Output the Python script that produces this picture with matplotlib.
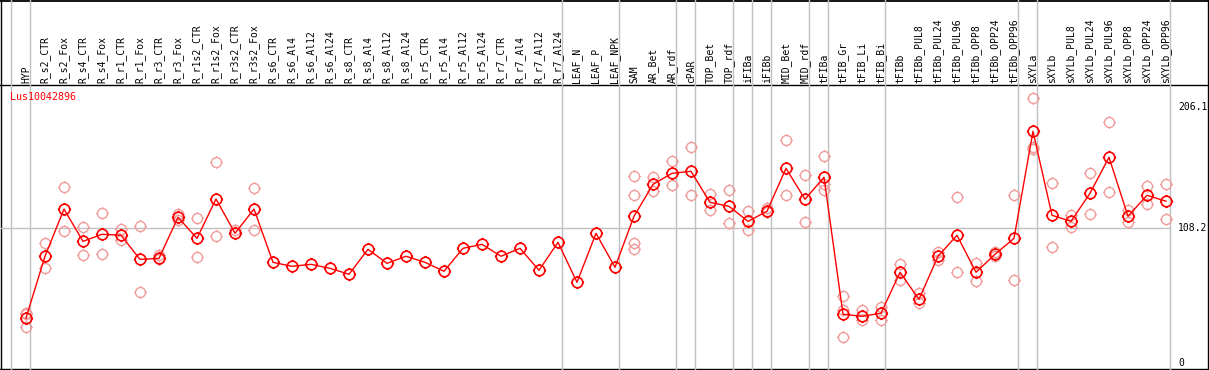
import numpy as np
import matplotlib.pyplot as plt
from matplotlib.path import Path

# sample names, left to right
labels = ["HYP", "R_s2_CTR", "R_s2_Fox", "R_s4_CTR", "R_s4_Fox", "R_r1_CTR", "R_r1_Fox",
          "R_r3_CTR", "R_r3_Fox", "R_r1s2_CTR", "R_r1s2_Fox", "R_r3s2_CTR", "R_r3s2_Fox",
          "R_s6_CTR", "R_s6_Al4", "R_s6_Al12", "R_s6_Al24", "R_s8_CTR", "R_s8_Al4",
          "R_s8_Al12", "R_s8_Al24", "R_r5_CTR", "R_r5_Al4", "R_r5_Al12", "R_r5_Al24",
          "R_r7_CTR", "R_r7_Al4", "R_r7_Al12", "R_r7_Al24", "LEAF_N", "LEAF_P", "LEAF_NPK",
          "SAM", "AR_Bet", "AR_rdf", "cPAR", "TOP_Bet", "TOP_rdf", "iFIBa", "iFIBb",
          "MID_Bet", "MID_rdf", "tFIBa", "tFIB_Gr", "tFIB_Li", "tFIB_Bi", "tFIBb",
          "tFIBb_PUL8", "tFIBb_PUL24", "tFIBb_PUL96", "tFIBb_OPP8", "tFIBb_OPP24",
          "tFIBb_OPP96", "sXYLa", "sXYLb", "sXYLb_PUL8", "sXYLb_PUL24", "sXYLb_PUL96",
          "sXYLb_OPP8", "sXYLb_OPP24", "sXYLb_OPP96"]

# mean expression per sample
means = [36.0, 85.7, 123.7, 97.7, 103.4, 102.6, 83.2, 84.0, 117.1, 100.1, 131.8, 104.2,
         123.7, 80.8, 77.6, 79.2, 76.0, 71.2, 91.3, 80.0, 85.7, 80.8, 73.6, 92.1, 95.3,
         85.7, 92.1, 74.4, 96.9, 64.7, 104.2, 76.8, 117.9, 143.6, 152.5, 154.1, 129.1,
         125.9, 113.8, 121.9, 156.5, 131.6, 149.3, 39.0, 37.4, 39.8, 72.8, 51.0, 85.7,
         102.6, 72.8, 87.3, 100.1, 186.3, 118.7, 113.8, 136.4, 165.4, 117.9, 134.8, 130.0]

# individual replicates (sample index, value)
rep_idx = [0, 0, 0, 1, 1, 2, 2, 3, 3, 4, 4, 5, 5, 6, 6, 7, 7, 8, 8, 9, 9, 10, 10, 11,
           12, 12, 32, 32, 32, 32, 33, 33, 34, 34, 35, 35, 36, 36, 37, 37, 38, 38, 39, 39,
           40, 40, 41, 41, 42, 42, 42, 43, 43, 43, 44, 44, 45, 45, 46, 46, 47, 47, 48, 48,
           49, 49, 50, 50, 51, 51, 52, 52, 53, 53, 53, 54, 54, 55, 55, 56, 56, 57, 57,
           58, 58, 59, 59, 60, 60]
rep_val = [40.3, 29.0, 39.0, 96.4, 76.0, 141.5, 105.8, 109.3, 86.5, 120.5, 87.5, 107.6, 98.5,
           110.1, 56.9, 86.5, 83.2, 120.0, 114.9, 116.2, 84.8, 161.3, 101.8, 106.6,
           140.4, 106.6, 150.1, 134.8, 96.6, 91.3, 149.3, 138.0, 162.2, 142.8, 173.4, 134.8,
           135.6, 122.7, 138.8, 112.2, 121.9, 106.6, 124.3, 121.1, 179.1, 134.8, 150.9, 113.0,
           166.2, 143.6, 138.8, 53.5, 42.2, 20.4, 42.2, 34.1, 45.1, 34.1, 79.2, 66.3,
           55.9, 47.8, 88.9, 82.4, 133.2, 72.8, 80.0, 65.5, 88.9, 85.7, 134.8, 66.3,
           212.9, 171.8, 174.0, 144.4, 92.9, 118.7, 109.0, 152.5, 119.5, 193.6, 137.2,
           122.7, 113.0, 142.0, 127.5, 143.6, 115.5]

# last sample of each group (separator drawn after it)
group_ends = [0, 28, 31, 34, 35, 37, 38, 39, 41, 42, 45, 52, 53, 60]
ytick_vals = [206.1, 108.2, 0]
gene = "Lus10042896"

W, H = 1209, 370
fig = plt.figure(figsize=(W / 100, H / 100), dpi=100)
ax = fig.add_axes([0, 0, 1, 1])
ax.set_axis_off()

# pixel mapping: x = 26 + 19*i, y = 362.7 - 1.242*v
px = 19.0
py = 1.242
ax.set_xlim(-26 / px, (W - 26) / px)
ax.set_ylim((362.7 - H) / py, 362.7 / py)

def xp(p):
    return (p - 26) / px

def yp(p):
    return (362.7 - p) / py

mono = "DejaVu Sans Mono"
grey = "#c0c0c0"

# frame lines
ax.plot([xp(1.5), xp(1.5)], [yp(0), yp(369)], color="black", lw=1)
ax.plot([xp(1207.5), xp(1207.5)], [yp(0), yp(369)], color="black", lw=1)
ax.plot([xp(0), xp(W)], [yp(0.8), yp(0.8)], color="black", lw=1.3)
ax.plot([xp(0), xp(W)], [yp(85), yp(85)], color="black", lw=1)
ax.plot([xp(0), xp(W)], [yp(369), yp(369)], color="black", lw=1)

# group separators
ax.plot([-0.8, -0.8], [yp(0), yp(369)], color=grey, lw=1)
for g in group_ends:
    ax.plot([g + 0.23, g + 0.23], [yp(0), yp(369)], color=grey, lw=1)
ax.plot([xp(1.5), group_ends[-1] + 0.23], [108.2, 108.2], color=grey, lw=1)

# custom marker: circle with small ticks
circ = Path.unit_circle()
ticks = [(0, 1), (0, 1.25), (0, -1), (0, -1.25), (1, 0), (1.25, 0), (-1, 0), (-1.25, 0)]
verts = list(circ.vertices) + ticks
codes = list(circ.codes) + [Path.MOVETO, Path.LINETO] * 4
mk = Path(verts, codes)

x = np.arange(len(labels))
ax.plot(rep_idx, rep_val, linestyle="none", marker=mk, markersize=9, mfc="none",
        mec="#f09a9a", mew=1.0)
ax.plot(x, means, color="red", lw=1)
ax.plot(x, means, linestyle="none", marker=mk, markersize=9.5, mfc="none",
        mec="red", mew=1.2)

for i, lab in enumerate(labels):
    ax.text(i, yp(83), lab, rotation=90, ha="center", va="bottom",
            family=mono, fontsize=7)

ax.text(xp(10), yp(97), gene, color="red", family=mono, fontsize=7.2,
        ha="left", va="center")

for v in ytick_vals:
    ax.text(xp(1178), v, "0" if v == 0 else str(v), family=mono, fontsize=7,
            ha="left", va="center")

fig.savefig("out.png", dpi=100)
